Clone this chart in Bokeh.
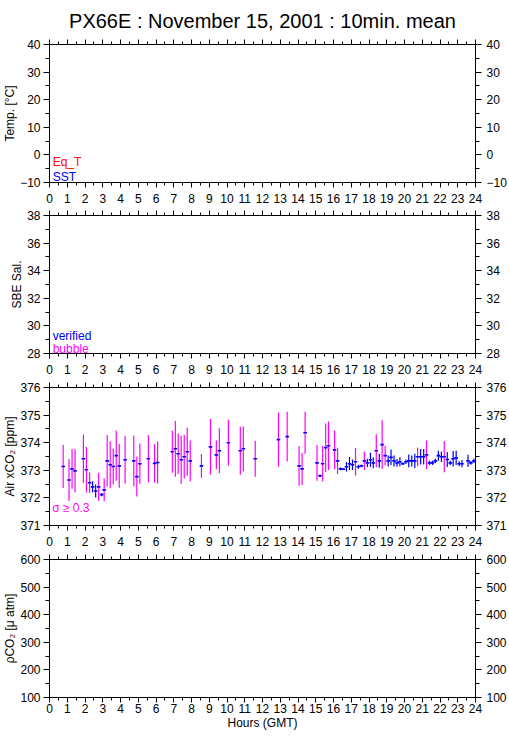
from bokeh.plotting import figure
from bokeh.models import LinearAxis, FixedTicker, Range1d, Label, ColumnDataSource
from bokeh.layouts import column
from bokeh.embed import file_html
from bokeh.resources import INLINE

# ---------------- data ----------------
TITLE = "PX66E : November 15, 2001 : 10min. mean"
X_LABEL = "Hours (GMT)"
HOUR_TICKS = list(range(0, 25))
HOUR_MINOR = [h + 0.5 for h in range(24)]

TEMP_TICKS = [-10, 0, 10, 20, 30, 40]
TEMP_MINOR = [-5, 5, 15, 25, 35]
SAL_TICKS = [28, 30, 32, 34, 36, 38]
SAL_MINOR = [29, 31, 33, 35, 37]
XCO2_TICKS = [371, 372, 373, 374, 375, 376]
XCO2_MINOR = [371.5, 372.5, 373.5, 374.5, 375.5]
PCO2_TICKS = [100, 200, 300, 400, 500, 600]
PCO2_MINOR = [150, 250, 350, 450, 550]

air_hour = [0.77, 1.10, 1.27, 1.44, 1.91, 2.08, 2.26, 2.43, 2.60, 2.77,
            2.94, 3.08, 3.25, 3.42, 3.59, 3.76, 3.93, 4.26, 4.75, 4.92,
            5.09, 5.57, 5.92, 6.09, 6.92, 7.09, 7.25, 7.42, 7.59, 7.76,
            7.93, 8.56, 9.07, 9.40, 9.57, 10.08, 10.75, 10.92, 11.59, 12.90,
            13.39, 14.06, 14.23, 14.40, 15.07, 15.24, 15.39, 15.56, 15.72, 16.06,
            16.23, 16.40, 16.56, 16.73, 16.90, 17.07, 17.24, 17.40, 17.57, 17.74,
            17.91, 18.08, 18.24, 18.41, 18.58, 18.74, 18.91, 19.08, 19.24, 19.41,
            19.58, 19.74, 19.91, 20.08, 20.24, 20.41, 20.58, 20.74, 20.91, 21.08,
            21.24, 21.41, 21.58, 21.74, 21.91, 22.08, 22.24, 22.41, 22.58, 22.74,
            22.91, 23.08, 23.24, 23.58, 23.74, 23.91]
air_xco2 = [373.14, 372.65, 373.05, 372.98, 373.42, 373.02, 372.55, 372.40, 372.25, 372.40,
            372.12, 372.29, 373.34, 373.20, 373.14, 373.53, 373.16, 373.38, 373.34, 372.77,
            373.24, 373.42, 373.25, 373.28, 373.67, 373.78, 373.60, 373.38, 373.49, 373.67,
            373.34, 373.16, 373.85, 373.56, 373.71, 374.00, 373.71, 373.78, 373.42, 374.11,
            374.22, 373.16, 373.05, 374.36, 373.27, 372.80, 373.24, 373.82, 373.89, 373.74,
            373.34, 373.05, 373.04, 373.13, 373.24, 373.20, 373.31, 373.13, 373.16, 373.34,
            373.27, 373.38, 373.27, 373.71, 373.34, 373.93, 373.53, 373.34, 373.47, 373.34,
            373.27, 373.31, 373.24, 373.31, 373.34, 373.34, 373.34, 373.49, 373.49, 373.49,
            373.56, 373.27, 373.27, 373.34, 373.53, 373.49, 373.49, 373.39, 373.27, 373.42,
            373.45, 373.24, 373.24, 373.34, 373.27, 373.34]
air_sigma = [0.78, 0.76, 0.72, 0.78, 0.88, 0.82, 0.37, 0.20, 0.24, 0.51,
             0.06, 0.41, 0.94, 0.85, 0.65, 0.91, 0.79, 0.86, 0.92, 0.72,
             0.73, 0.85, 0.70, 0.76, 0.76, 1.01, 0.73, 0.87, 0.79, 0.87,
             0.74, 0.43, 1.01, 0.52, 0.81, 0.83, 0.87, 0.81, 0.65, 0.98,
             0.90, 0.72, 0.58, 0.76, 0.65, 0.05, 0.65, 0.88, 0.88, 0.70,
             0.48, 0.05, 0.03, 0.17, 0.24, 0.19, 0.50, 0.07, 0.05, 0.33,
             0.15, 0.26, 0.20, 0.60, 0.25, 0.88, 0.35, 0.20, 0.28, 0.20,
             0.14, 0.16, 0.05, 0.08, 0.23, 0.20, 0.26, 0.34, 0.28, 0.28,
             0.52, 0.08, 0.08, 0.08, 0.18, 0.19, 0.56, 0.27, 0.08, 0.28,
             0.26, 0.09, 0.13, 0.22, 0.07, 0.08]
SIGMA_LIMIT = 0.3

# ---------------- style ----------------
FONT = "Liberation Sans"
BLUE = "#0000ff"
MAGENTA = "#ff00ff"
RED = "#ff0000"
FRAME_W = 426
FRAME_H = 138
LEFT = 42
RIGHT = 32


def style_axis(ax, ticks, minor, tick_out, minor_out, labels=True, standoff=5):
    ax.ticker = FixedTicker(ticks=ticks, minor_ticks=minor)
    ax.major_tick_out = tick_out
    ax.major_tick_in = 0
    ax.minor_tick_out = minor_out
    ax.minor_tick_in = 0
    ax.axis_line_color = "black"
    ax.major_tick_line_color = "black"
    ax.minor_tick_line_color = "black"
    ax.major_label_text_font = FONT
    ax.major_label_text_font_size = "12px"
    ax.major_label_text_color = "black"
    ax.major_label_standoff = standoff
    ax.axis_label_text_font = FONT
    ax.axis_label_text_font_size = "12px"
    ax.axis_label_text_font_style = "normal"
    ax.axis_label_text_color = "black"
    ax.axis_label_standoff = 0
    if not labels:
        ax.major_label_overrides = {t: "" for t in ticks}
        ax.major_label_text_font_size = "0px"
        ax.major_label_standoff = 0


def panel(y0, y1, yt, ym, ylabel, top, bottom, xlabel=None, xstandoff=6):
    p = figure(frame_width=FRAME_W, frame_height=FRAME_H,
               x_range=Range1d(0, 24), y_range=Range1d(y0, y1),
               output_backend="svg", toolbar_location=None,
               min_border_left=LEFT, min_border_right=RIGHT,
               min_border_top=top, min_border_bottom=bottom)
    p.xgrid.visible = False
    p.ygrid.visible = False
    p.outline_line_color = "black"
    p.outline_line_alpha = 1.0
    p.background_fill_color = "white"
    p.border_fill_color = "white"

    bx = p.xaxis[0]
    style_axis(bx, HOUR_TICKS, HOUR_MINOR, 5, 3, standoff=xstandoff)
    if xlabel:
        bx.axis_label = xlabel
    ly = p.yaxis[0]
    style_axis(ly, yt, ym, 6, 4, standoff=3)
    ly.axis_label = ylabel

    tx = LinearAxis()
    style_axis(tx, HOUR_TICKS, HOUR_MINOR, 5, 3, labels=False)
    p.add_layout(tx, "above")
    ry = LinearAxis()
    style_axis(ry, yt, ym, 6, 4, standoff=5)
    p.add_layout(ry, "right")
    return p


def legend_text(p, x, y, text, color):
    p.add_layout(Label(x=x, y=y, text=text, text_color=color, text_font=FONT,
                       text_font_size="12px", text_baseline="alphabetic"))


# Panel 1: temperature
p1 = panel(-10, 40, TEMP_TICKS, TEMP_MINOR, "Temp. [°C]", 7, 26)
p1.title.text = TITLE
p1.title.align = "center"
p1.title.text_font = FONT
p1.title.text_font_size = "20px"
p1.title.text_font_style = "normal"
p1.title.text_color = "black"
p1.title.standoff = 15
legend_text(p1, 0.18, -2.5, "Eq_T", RED)
legend_text(p1, 0.18, -8.0, "SST", BLUE)

# Panel 2: salinity
p2 = panel(28, 38, SAL_TICKS, SAL_MINOR, "SBE Sal.", 7, 27)
legend_text(p2, 0.18, 29.25, "verified", BLUE)
legend_text(p2, 0.18, 28.33, "bubble", MAGENTA)

# Panel 3: air xCO2
p3 = panel(371, 376, XCO2_TICKS, XCO2_MINOR, "Air xCO\u2082 [ppm]", 7, 27)
src = ColumnDataSource(dict(
    h=air_hour,
    m=air_xco2,
    lo=[m - s for m, s in zip(air_xco2, air_sigma)],
    hi=[m + s for m, s in zip(air_xco2, air_sigma)],
    h0=[h - 0.1 for h in air_hour],
    h1=[h + 0.1 for h in air_hour],
    c=[MAGENTA if s >= SIGMA_LIMIT else BLUE for s in air_sigma],
))
p3.segment(x0="h", y0="lo", x1="h", y1="hi", line_color="c", line_width=1.2, source=src)
p3.segment(x0="h0", y0="m", x1="h1", y1="m", line_color=BLUE, line_width=1.6, source=src)
legend_text(p3, 0.15, 371.65, "\u03c3 \u2265 0.3", MAGENTA)

# Panel 4: pCO2
p4 = panel(100, 600, PCO2_TICKS, PCO2_MINOR, "\u03c1CO\u2082 [\u03bc atm]", 7, 33,
           xlabel=X_LABEL, xstandoff=1)

layout = column(p1, p2, p3, p4, spacing=0)
open("out.html", "w").write(file_html(layout, INLINE))
